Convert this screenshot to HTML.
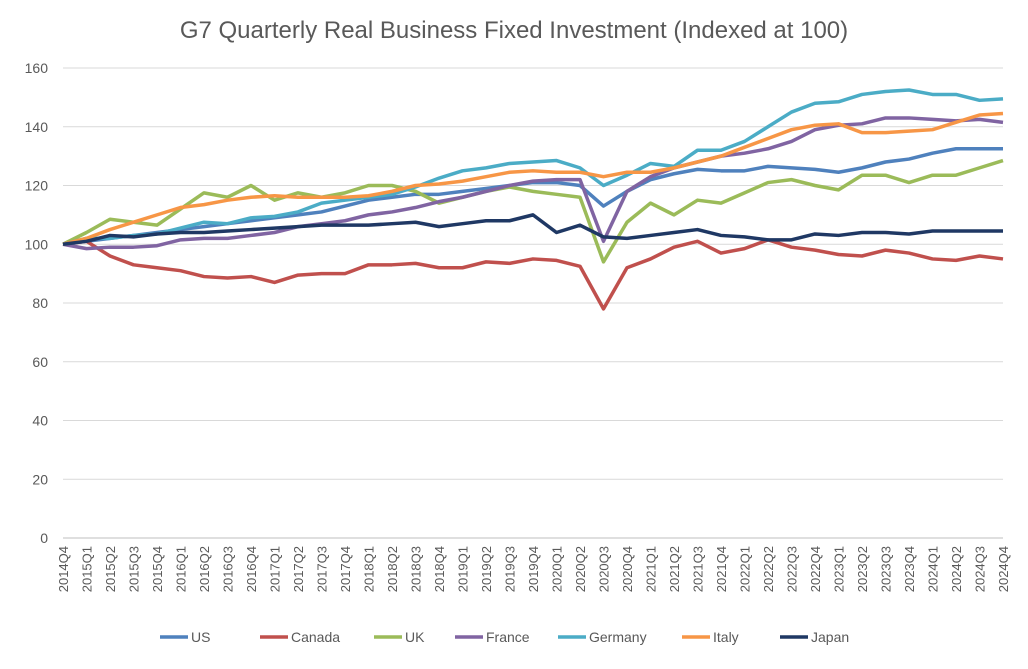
<!DOCTYPE html>
<html><head><meta charset="utf-8"><style>
body{margin:0;background:#fff;font-family:"Liberation Sans",sans-serif}
svg text{font-family:"Liberation Sans",sans-serif;fill:#595959}
</style></head><body>
<svg id="c" width="1028" height="664"></svg>
<script>
const categories=[];for(let y=2014;y<=2024;y++)for(let q=1;q<=4;q++){if(y===2014&&q<4)continue;categories.push(y+"Q"+q);}
const yTicks=[0,20,40,60,80,100,120,140,160];
const seriesNames=["US","Canada","UK","France","Germany","Italy","Japan"];
const colors=["#4f81bd","#c0504d","#9bbb59","#8064a2","#4bacc6","#f79646","#1f3864"];
const us=[100,101,102,103,104,105,106,107,108,109,110,111,113,115,116,117,117,118,119,120,121,121,120,113,118,122,124,125.5,125,125,126.5,126,125.5,124.5,126,128,129,131,132.5,132.5,132.5];
const canada=[100,101,96,93,92,91,89,88.5,89,87,89.5,90,90,93,93,93.5,92,92,94,93.5,95,94.5,92.5,78,92,95,99,101,97,98.5,101.5,99,98,96.5,96,98,97,95,94.5,96,95];
const uk=[100,104,108.5,107.5,106.5,112,117.5,116,120,115,117.5,116,117.5,120,120,118,114,116,118,119.5,118,117,116,94,107.5,114,110,115,114,117.5,121,122,120,118.5,123.5,123.5,121,123.5,123.5,126,128.5];
const france=[100,98.5,99,99,99.5,101.5,102,102,103,104,106,107,108,110,111,112.5,114.5,116,118,120,121.5,122,122,101,118,123,126,128,130,131,132.5,135,139,140.5,141,143,143,142.5,142,142.5,141.5];
const germany=[100,102,102,103,103.5,105.5,107.5,107,109,109.5,111,114,115,116,117,119.5,122.5,125,126,127.5,128,128.5,126,120,123.5,127.5,126.5,132,132,135,140,145,148,148.5,151,152,152.5,151,151,149,149.5];
const italy=[100,102,105,107.5,110,112.5,113.5,115,116,116.5,116,116,116,116.5,118,120,120.5,121.5,123,124.5,125,124.5,124.5,123,124.5,124.5,126,128,130,133,136,139,140.5,141,138,138,138.5,139,141.5,144,144.5];
const japan=[100,101,103,102.5,103.5,104,104,104.5,105,105.5,106,106.5,106.5,106.5,107,107.5,106,107,108,108,110,104,106.5,102.5,102,103,104,105,103,102.5,101.5,101.5,103.5,103,104,104,103.5,104.5,104.5,104.5,104.5];
const allSeries=[us,canada,uk,france,germany,italy,japan];
const NS="http://www.w3.org/2000/svg",svg=document.getElementById('c');
const x0=63,x1=1003,yb=538,yt=68;
const xs=i=>x0+i*(x1-x0)/(categories.length-1);
const ys=v=>yb-(v/160)*(yb-yt);
function mk(t,a,p){const e=document.createElementNS(NS,t);for(const k in a)e.setAttribute(k,a[k]);(p||svg).appendChild(e);return e;}
const title=mk('text',{x:514,y:38,'text-anchor':'middle','font-size':24});title.textContent="G7 Quarterly Real Business Fixed Investment (Indexed at 100)";


yTicks.forEach(v=>{
 const l=mk('line',{x1:x0,x2:x1,y1:ys(v),y2:ys(v),stroke:v===0?'#bfbfbf':'#d9d9d9','stroke-width':1});
 
 
 const t=mk('text',{x:48,y:ys(v)+5,'text-anchor':'end','font-size':14});t.textContent=v;
 
 
});
categories.forEach((c,i)=>{
 const t=mk('text',{transform:`translate(${xs(i)+5},546) rotate(-90)`,'text-anchor':'end','font-size':13});t.textContent=c;
 
 
});
allSeries.forEach((s,k)=>{
 const p=mk('polyline',{points:s.map((v,i)=>xs(i)+','+ys(v)).join(' '),fill:'none',stroke:colors[k],'stroke-width':3.5,'stroke-linejoin':'round'});
 
 
});
const lx=[160,260,374,455,558,682,780];
seriesNames.forEach((n,k)=>{
 const g=mk('g',{});
 
 
 mk('line',{x1:lx[k],x2:lx[k]+28,y1:637,y2:637,stroke:colors[k],'stroke-width':3.5},g);
 const t=mk('text',{x:lx[k]+31,y:642,'font-size':14},g);t.textContent=n;
});
</script>
</body></html>
